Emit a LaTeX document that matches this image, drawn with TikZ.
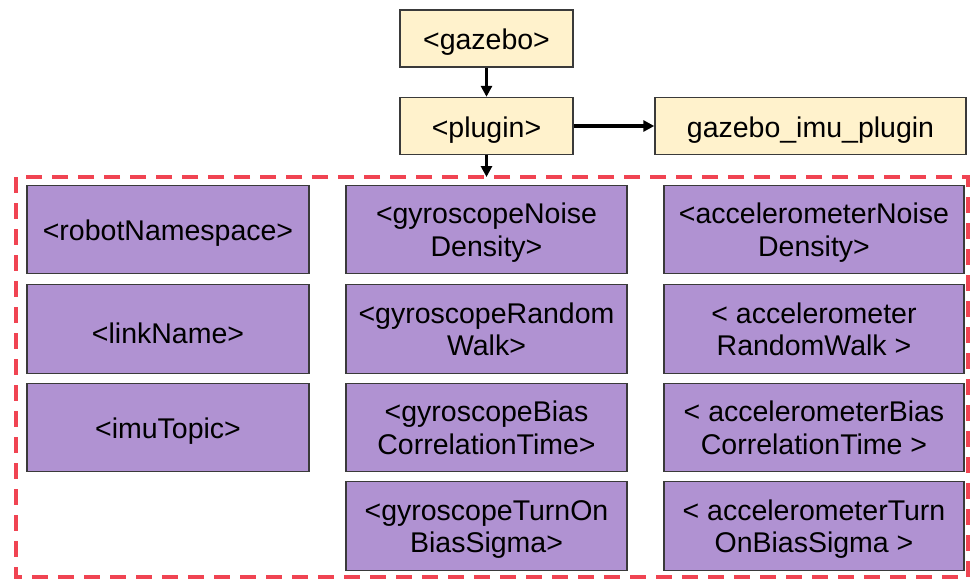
\documentclass[tikz,border=0pt]{standalone}
\usepackage{fontspec}
\setmainfont{Liberation Sans}
\usetikzlibrary{arrows.meta}
\definecolor{cream}{HTML}{FFF2CC}
\definecolor{lilac}{HTML}{B092D2}
\definecolor{dashred}{HTML}{F04452}
\definecolor{edge}{HTML}{3A3A3A}
% two stacked, centred lines of a tag name
\newcommand\tagpair[2]{\begin{tabular}{@{}c@{}}\rule{0pt}{31pt}#1\\#2\end{tabular}}
\tikzset{
  tag/.style={draw=edge, line width=1.4pt, inner sep=0pt,
    font=\fontsize{28.5}{32.5}\selectfont},
  oneline/.style={execute at begin node={\rule{0pt}{28.5pt}}},
  topbox/.style={tag, oneline, fill=cream, minimum height=57pt},
  param/.style={tag, fill=lilac, minimum height=88.5pt},
  flow/.style={line width=3.5pt, -{Triangle[length=11pt,width=11pt]}},
}
\begin{document}
\begin{tikzpicture}[x=1pt,y=-1pt]
  \useasboundingbox (0,0) rectangle (971,579);

  % plugin hierarchy
  \node[topbox, minimum width=173pt] (gazebo) at (486.5,38.5) {<gazebo>};
  \node[topbox, minimum width=173pt] (plugin) at (486.5,126) {<plugin>};
  \node[topbox, minimum width=311pt] (imu) at (810.5,126) {gazebo\_imu\_plugin};

  % frame around the plugin parameters
  \draw[dashred, line width=3.2pt, dash pattern=on 16pt off 10pt]
    (16,177) rectangle (968,577);
  \coordinate (frametop) at (486.5,177);

  % first column
  \node[param, oneline, minimum width=282pt] (ns)    at (168,229.5) {<robotNamespace>};
  \node[param, oneline, minimum width=282pt] (link)  at (168,329)   {<linkName>};
  \node[param, oneline, minimum width=282pt] (topic) at (168,427.5) {<imuTopic>};

  % gyroscope column
  \node[param, minimum width=281pt] (gnd) at (486.5,229.5) {\tagpair{<gyroscopeNoise}{Density>}};
  \node[param, minimum width=281pt] (grw) at (486.5,329)   {\tagpair{<gyroscopeRandom}{Walk>}};
  \node[param, minimum width=281pt] (gbc) at (486.5,427.5) {\tagpair{<gyroscopeBias}{CorrelationTime>}};
  \node[param, minimum width=281pt] (gbs) at (486.5,526)   {\tagpair{<gyroscopeTurnOn}{BiasSigma>}};

  % accelerometer column
  \node[param, minimum width=300pt] (and) at (814,229.5) {\tagpair{<accelerometerNoise}{Density>}};
  \node[param, minimum width=300pt] (arw) at (814,329)   {\tagpair{< accelerometer}{RandomWalk >}};
  \node[param, minimum width=300pt] (abc) at (814,427.5) {\tagpair{< accelerometerBias}{CorrelationTime >}};
  \node[param, minimum width=300pt] (abs) at (814,526)   {\tagpair{< accelerometerTurn}{OnBiasSigma >}};

  % connectors
  \draw[flow] (gazebo) -- (plugin);
  \draw[flow] (plugin) -- (imu);
  \draw[flow] (plugin.south) -- (frametop);
\end{tikzpicture}
\end{document}
